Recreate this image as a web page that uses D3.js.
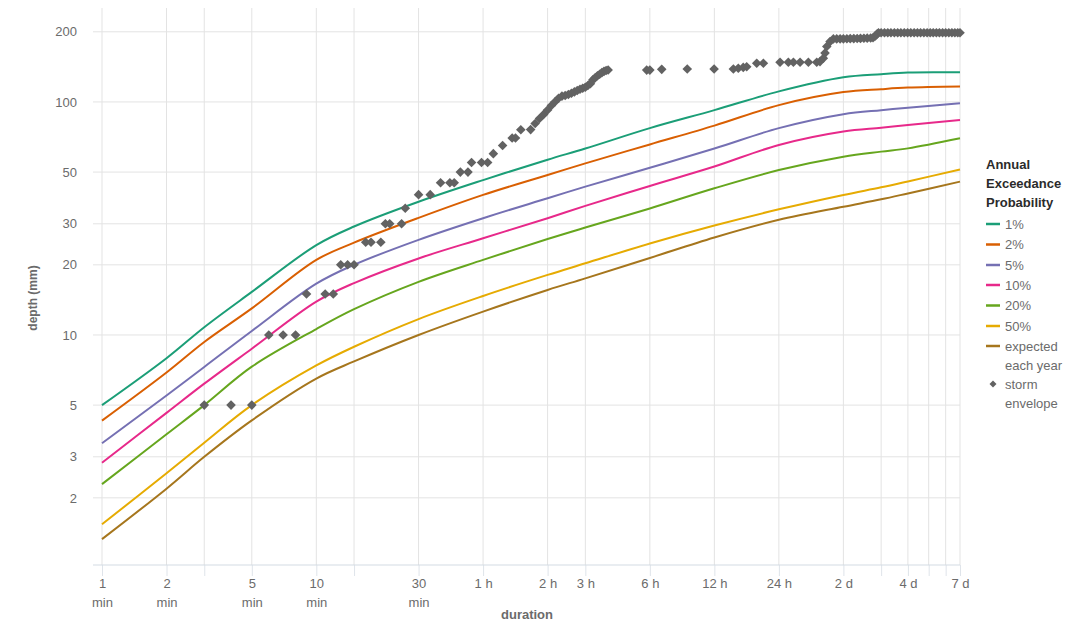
<!DOCTYPE html>
<html>
<head>
<meta charset="utf-8">
<script src="https://cdn.jsdelivr.net/npm/d3@7"></script>
<style>
  html, body { margin: 0; padding: 0; background: #fff; }
  svg { display: block; font-family: "Liberation Sans", Arial, sans-serif; }
</style>
</head>
<body>
<svg id="chart" width="1081" height="622"></svg>
<script>
// ---- data (durations in minutes, depths in mm) ----
const durations = [1, 2, 3, 5, 10, 15, 30, 60, 120, 180, 360, 720, 1440, 2880, 4320, 5760, 10080];
const seriesNames = ["1%", "2%", "5%", "10%", "20%", "50%", "expected each year"];
const seriesColors = ["#1b9e77", "#d95f02", "#7570b3", "#e7298a", "#66a61e", "#e6ab02", "#a6761d"];
const aep1  = [5.0, 7.95, 10.8, 15.3, 24.3, 29.2, 37.3, 46.2, 56.5, 63.1, 77.2, 92.2, 111, 127.6, 131.6, 133.8, 134];
const aep2  = [4.29, 6.9, 9.33, 13.0, 21.0, 24.9, 31.8, 39.9, 48.6, 54.5, 65.7, 79.1, 96.9, 110.2, 113.4, 115.2, 116.4];
const aep5  = [3.43, 5.5, 7.29, 10.4, 16.6, 20.0, 25.6, 31.7, 38.6, 43.3, 52.2, 63.1, 77.2, 88.6, 92.2, 94.5, 98.6];
const aep10 = [2.83, 4.63, 6.18, 8.73, 13.9, 16.7, 21.3, 26.0, 31.7, 35.8, 43.6, 52.8, 65.4, 74.7, 77.5, 79.7, 83.6];
const aep20 = [2.29, 3.75, 5.0, 7.31, 10.6, 12.9, 16.9, 21.0, 25.8, 28.9, 34.9, 42.6, 51.0, 58.2, 61.2, 63.2, 69.8];
const aep50 = [1.54, 2.55, 3.45, 5.0, 7.4, 8.9, 11.7, 14.7, 18.1, 20.3, 24.7, 29.5, 34.6, 39.9, 43.0, 45.6, 51.3];
const aepEY = [1.33, 2.19, 3.0, 4.3, 6.5, 7.7, 10.0, 12.6, 15.6, 17.5, 21.4, 26.2, 31.2, 35.5, 38.2, 40.5, 45.5];

const stormDur = [3, 4, 5, 6, 7, 8, 9, 11, 12, 13, 14, 15, 17, 18, 20, 21, 22, 25, 26, 30, 34, 38, 42, 44, 47, 51, 53, 59, 63, 67, 74, 82, 85, 90,
  100, 105, 110, 115, 120, 125, 130, 135, 140, 145, 150, 155, 160, 165, 170, 175, 180, 185, 190, 195, 200, 205, 210, 215, 220, 225, 230,
  348, 360, 409, 538, 718, 883, 931, 982, 1019, 1135, 1219, 1458, 1594, 1683, 1808, 1977, 2163, 2240, 2322, 2364, 2409, 2496, 2586,
  2680, 2780, 2880, 2990, 3100, 3220, 3340, 3460, 3590, 3720, 3860, 3960, 4060, 4140, 4200,
  4320, 4480, 4640, 4800, 4980, 5160, 5340, 5540, 5740, 5940, 6160, 6380, 6600, 6840, 7080, 7320, 7560, 7820, 8080, 8360, 8640, 8940, 9240, 9540, 9840, 10080];
const stormDepth = [5, 5, 5, 10, 10, 10, 15, 15, 15, 20, 20, 20, 25, 25, 25, 30, 30, 30, 35, 40, 40, 45, 45, 45, 50, 50, 55, 55, 55, 60, 65, 70, 70, 76,
  76.1, 80.8, 84.9, 88.4, 92.4, 96.5, 100.2, 103.7, 105.9, 106.6, 107.6, 109, 110.4, 111.9, 113.3, 114.5, 115.6, 117.6, 119.8, 124.3, 127, 129.5, 131.5, 133.6, 135.3, 136.4, 137.2,
  137, 137, 138, 138.5, 138.5, 138.5, 139.4, 140.7, 141.5, 146.6, 146.6, 148, 148, 148, 148, 148, 148, 149, 154, 162, 173, 181.5, 186.4,
  186.4, 186.5, 186.5, 186.8, 187, 187, 187.2, 187.4, 187.6, 187.8, 188, 188.5, 192, 196, 198,
  198, 198, 198, 198, 198, 198, 198, 198, 198, 198, 198, 198, 198, 198, 198, 198, 198, 198, 198, 198, 198, 198, 198, 198, 198, 198];

const xTickValues = [1, 2, 3, 5, 10, 15, 30, 60, 120, 180, 360, 720, 1440, 2880, 4320, 5760, 7200, 8640, 10080];
const xTickLabels = ["1\nmin", "2\nmin", "", "5\nmin", "10\nmin", "", "30\nmin", "1 h", "2 h", "3 h", "6 h", "12 h", "24 h", "2 d", "", "4 d", "", "", "7 d"];
const yTickValues = [2, 3, 5, 10, 20, 30, 50, 100, 200];
const yTickLabels = ["2", "3", "5", "10", "20", "30", "50", "100", "200"];

// ---- chart ----
const svg = d3.select("#chart");
const x = d3.scaleLog().domain([1, 10080]).range([102, 960]);
const y = d3.scaleLog().domain([1.03, 253]).range([565, 8]);

const grid = svg.append("g");
grid.selectAll("line.h").data(yTickValues).join("line")
  .attr("x1", 93).attr("x2", 960)
  .attr("y1", d => y(d)).attr("y2", d => y(d))
  .attr("stroke", "#e3e3e3").attr("stroke-width", 1);
grid.selectAll("line.v").data(xTickValues).join("line")
  .attr("x1", d => x(d)).attr("x2", d => x(d))
  .attr("y1", 8).attr("y2", 565)
  .attr("stroke", "#e3e3e3").attr("stroke-width", 1);

// x axis
const xAxis = svg.append("g").attr("transform", "translate(0,565)")
  .call(d3.axisBottom(x).tickValues(xTickValues).tickSize(11).tickPadding(8)
    .tickFormat((d, i) => xTickLabels[i]));
xAxis.select(".domain").remove();
xAxis.append("line").attr("x1", 93).attr("x2", 960).attr("y1", 0).attr("y2", 0)
  .attr("stroke", "#d3dbe3").attr("stroke-width", 1);
xAxis.selectAll(".tick line").attr("stroke", "#dfe4ea");
xAxis.selectAll(".tick text").each(function (d, i) {
  const t = d3.select(this);
  const parts = xTickLabels[i].split("\n");
  t.text(null).attr("fill", "#6b6b6b").attr("font-size", 13).attr("y", 14).attr("dy", 0);
  parts.forEach((p, k) => {
    t.append("tspan").attr("x", 0).attr("y", 14 + 19 * k).attr("dy", "0.71em").text(p);
  });
});

// y axis
const yAxis = svg.append("g").attr("transform", "translate(83,0)")
  .call(d3.axisLeft(y).tickValues(yTickValues).tickSize(0).tickPadding(6)
    .tickFormat((d, i) => yTickLabels[i]));
yAxis.select(".domain").remove();
yAxis.selectAll(".tick text").attr("fill", "#6b6b6b").attr("font-size", 13);

// axis titles
svg.append("text").attr("transform", "translate(37,298) rotate(-90)")
  .attr("text-anchor", "middle").attr("font-size", 12).attr("font-weight", "bold")
  .attr("fill", "#6b6b6b").text("depth (mm)");
svg.append("text").attr("x", 527).attr("y", 619)
  .attr("text-anchor", "middle").attr("font-size", 13).attr("font-weight", "bold")
  .attr("fill", "#6b6b6b").text("duration");

// lines
const seriesValues = [aep1, aep2, aep5, aep10, aep20, aep50, aepEY];
const line = d3.line().x(d => x(d[0])).y(d => y(d[1])).curve(d3.curveCatmullRom.alpha(0.5));
const lines = svg.append("g");
seriesValues.slice().reverse().forEach((vals, ri) => {
  const i = seriesValues.length - 1 - ri;
  lines.append("path")
    .datum(durations.map((dur, k) => [dur, vals[k]]))
    .attr("d", line)
    .attr("fill", "none")
    .attr("stroke", seriesColors[i])
    .attr("stroke-width", 2);
});

// storm envelope
const diamond = "M0,-4.8L4.8,0L0,4.8L-4.8,0Z";
svg.append("g").selectAll("path").data(stormDur.map((d, i) => [d, stormDepth[i]])).join("path")
  .attr("d", diamond)
  .attr("transform", d => `translate(${x(d[0])},${y(d[1])})`)
  .attr("fill", "#626262");

// legend
const lg = svg.append("g").attr("transform", "translate(986,0)");
["Annual", "Exceedance", "Probability"].forEach((t, k) => {
  lg.append("text").attr("x", 0).attr("y", 164 + 19 * k).attr("dy", "0.35em")
    .attr("font-size", 13).attr("font-weight", "bold").attr("fill", "#2b2b2b").text(t);
});
const itemY = [224, 244.5, 265, 285, 305.5, 326, 346];
seriesNames.forEach((name, i) => {
  lg.append("line").attr("x1", 0).attr("x2", 14).attr("y1", itemY[i]).attr("y2", itemY[i])
    .attr("stroke", seriesColors[i]).attr("stroke-width", 2.5);
  const parts = name === "expected each year" ? ["expected", "each year"] : [name];
  parts.forEach((p, k) => {
    lg.append("text").attr("x", 19).attr("y", itemY[i] + 19 * k).attr("dy", "0.35em")
      .attr("font-size", 13).attr("fill", "#6b6b6b").text(p);
  });
});
lg.append("path").attr("d", "M0,-3.5L3.5,0L0,3.5L-3.5,0Z")
  .attr("transform", "translate(7,384)").attr("fill", "#626262");
["storm", "envelope"].forEach((p, k) => {
  lg.append("text").attr("x", 19).attr("y", 384 + 19 * k).attr("dy", "0.35em")
    .attr("font-size", 13).attr("fill", "#6b6b6b").text(p);
});
</script>
</body>
</html>
